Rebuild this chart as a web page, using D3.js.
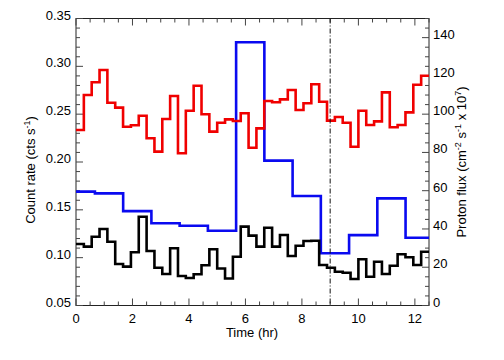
<!DOCTYPE html>
<html><head><meta charset="utf-8">
<script src="https://cdn.jsdelivr.net/npm/d3@7"></script>
<style>
html,body{margin:0;padding:0;background:#fff;}
svg{display:block;font-family:"Liberation Sans",Arial,Helvetica,sans-serif;}
</style></head>
<body><svg id="c" width="504" height="360"></svg>
<script>
// ---- data ----
const binSeconds = 1000; // red & black light-curve bins (1000 s)
const redRate = [0.2334,0.2700,0.2833,0.2962,0.2620,0.2568,0.2369,0.2384,0.2484,0.2248,
  0.2108,0.2449,0.2690,0.2091,0.2536,0.2797,0.2499,0.2317,0.2411,0.2446,
  0.2428,0.2509,0.2149,0.2352,0.2638,0.2624,0.2655,0.2753,0.2543,0.2614,
  0.2812,0.2630,0.2432,0.2470,0.2411,0.2160,0.2536,0.2387,0.2425,0.2728,
  0.2363,0.2387,0.2519,0.2808,0.2902];
const blackRate = [0.1143,0.1115,0.1219,0.1300,0.1167,0.0934,0.0906,0.1056,0.1428,0.1070,
  0.0895,0.0829,0.1098,0.0808,0.0787,0.0827,0.0920,0.1088,0.0887,0.0782,
  0.1010,0.1324,0.1230,0.1115,0.1313,0.1115,0.1237,0.1017,0.1125,0.1174,
  0.1177,0.0923,0.0895,0.0853,0.0843,0.0777,0.0983,0.0801,0.0958,0.0829,
  0.0916,0.1035,0.1004,0.0923,0.1062];
const protonEdges = [0,0.67,1.67,2.67,3.67,4.67,5.67,6.67,7.67,8.67,9.67,10.67,11.67,12.5];
const protonFlux = [59.5,58.6,49.3,43.0,41.7,39.1,137.6,75.7,57.2,27.3,36.8,56.0,35.4];
const markerTime = 9;
const xTicks = [0,2,4,6,8,10,12];
const yLeftTicks = [0.05,0.10,0.15,0.20,0.25,0.30,0.35];
const yRightTicks = [0,20,40,60,80,100,120,140];

// ---- layout ----
const L = 76, R = 429, T = 18.5, B = 305.5;
const svg = d3.select("#c");
const x = d3.scaleLinear().domain([0,12.5]).range([L,R]);
const yL = d3.scaleLinear().domain([0.05,0.35]).range([B,T]);
const yR = d3.scaleLinear().domain([0,150]).range([B,T]);

const tickCol = "#444";
// frame
svg.append("rect").attr("x",L).attr("y",T).attr("width",R-L).attr("height",B-T)
  .attr("fill","none").attr("stroke","#222").attr("stroke-width",1);

function ticks(vals, pos, horizontal, side, len){
  vals.forEach(v=>{
    const p = pos(v);
    if(horizontal){
      const y0 = side==="bottom"?B:T, d = side==="bottom"?-len:len;
      svg.append("line").attr("x1",p).attr("x2",p).attr("y1",y0).attr("y2",y0+d)
        .attr("stroke",tickCol).attr("stroke-width",1);
    } else {
      const x0 = side==="left"?L:R, d = side==="left"?len:-len;
      svg.append("line").attr("x1",x0).attr("x2",x0+d).attr("y1",p).attr("y2",p)
        .attr("stroke",tickCol).attr("stroke-width",1);
    }
  });
}
const xMinor = d3.range(0,12.51,0.5).filter(v=>v%2!==0);
ticks(xTicks, x, true, "bottom", 7); ticks(xMinor, x, true, "bottom", 4);
ticks(xTicks, x, true, "top", 7); ticks(xMinor, x, true, "top", 4);
const yLMinor = d3.range(0.05,0.3501,0.01).filter(v=>Math.abs(Math.round(v*20)-v*20)>1e-6);
ticks(yLeftTicks, yL, false, "left", 7); ticks(yLMinor, yL, false, "left", 4);
const yRMinor = d3.range(0,150.1,5).filter(v=>v%20!==0);
ticks(yRightTicks, yR, false, "right", 7); ticks(yRMinor, yR, false, "right", 4);

// tick labels
const fs = 13;
svg.selectAll(".xl").data(xTicks).join("text").attr("x",d=>x(d)).attr("y",B+17.5)
  .attr("text-anchor","middle").attr("font-size",fs).text(d=>d);
svg.selectAll(".yl").data(yLeftTicks).join("text").attr("x",L-5).attr("y",d=>yL(d)+1)
  .attr("text-anchor","end").attr("font-size",fs).text(d=>d.toFixed(2));
svg.selectAll(".yr").data(yRightTicks).join("text").attr("x",R+4).attr("y",d=>yR(d)+1)
  .attr("text-anchor","start").attr("font-size",fs).text(d=>d);

// axis titles
svg.append("text").attr("x",(L+R)/2-0.5).attr("y",337).attr("text-anchor","middle")
  .attr("font-size",fs).text("Time (hr)");
const lt = svg.append("text").attr("transform","translate(35,170) rotate(-90)")
  .attr("text-anchor","middle").attr("font-size",fs);
lt.append("tspan").text("Count rate (cts  s");
lt.append("tspan").attr("dy",-5).attr("font-size",9).text("-1");
lt.append("tspan").attr("dy",5).text(")");
const rt = svg.append("text").attr("transform","translate(466,162) rotate(-90)")
  .attr("text-anchor","middle").attr("font-size",fs);
rt.append("tspan").text("Proton flux (cm");
rt.append("tspan").attr("dy",-5).attr("font-size",9).text("-2");
rt.append("tspan").attr("dy",5).text(" s");
rt.append("tspan").attr("dy",-5).attr("font-size",9).text("-1");
rt.append("tspan").attr("dy",5).text(" x 10");
rt.append("tspan").attr("dy",-5).attr("font-size",9).text("7");
rt.append("tspan").attr("dy",5).text(")");

// step series
function stepPts(edges, vals){
  const pts = vals.map((v,i)=>[edges[i],v]);
  pts.push([edges[vals.length], vals[vals.length-1]]);
  return pts;
}
const lcEdges = d3.range(redRate.length+1).map(i=>i*binSeconds/3600);
const lineL = d3.line().x(d=>x(d[0])).y(d=>yL(d[1])).curve(d3.curveStepAfter);
const lineR = d3.line().x(d=>x(d[0])).y(d=>yR(d[1])).curve(d3.curveStepAfter);

svg.append("path").attr("d",lineR(stepPts(protonEdges,protonFlux)))
  .attr("fill","none").attr("stroke","#0a0af0").attr("stroke-width",2.6);
svg.append("path").attr("d",lineL(stepPts(lcEdges,blackRate)))
  .attr("fill","none").attr("stroke","#000").attr("stroke-width",2.6);
svg.append("path").attr("d",lineL(stepPts(lcEdges,redRate)))
  .attr("fill","none").attr("stroke","#f00000").attr("stroke-width",2.6);

// marker
svg.append("line").attr("x1",x(markerTime)).attr("x2",x(markerTime)).attr("y1",T).attr("y2",B)
  .attr("stroke","#111").attr("stroke-width",1).attr("stroke-dasharray","5,2,1,2");
</script></body></html>
